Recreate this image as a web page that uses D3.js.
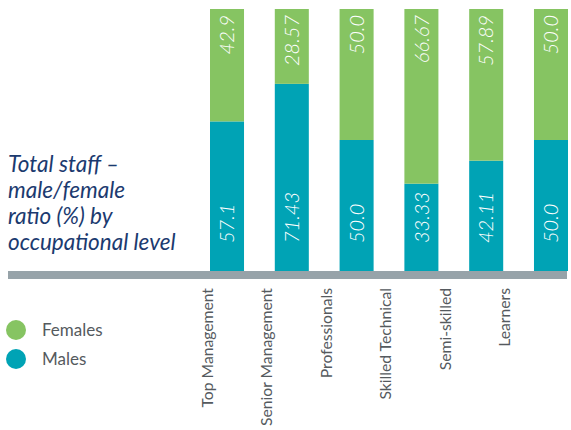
<!DOCTYPE html>
<html>
<head>
<meta charset="utf-8">
<script src="https://cdn.jsdelivr.net/npm/d3@7"></script>
<style>
  body { margin: 0; background: #fff; }
  svg { display: block; }
</style>
</head>
<body>
<svg id="chart"></svg>
<script>
let width = 571;
let height = 430;

// data
let categories = ['Top Management', 'Senior Management', 'Professionals', 'Skilled Technical', 'Semi-skilled', 'Learners'];
let males = [57.1, 71.43, 50.0, 33.33, 42.11, 50.0];
let females = [42.9, 28.57, 50.0, 66.67, 57.89, 50.0];
let maleLabels = ['57.1', '71.43', '50.0', '33.33', '42.11', '50.0'];
let femaleLabels = ['42.9', '28.57', '50.0', '66.67', '57.89', '50.0'];
let titleLines = ['Total staff \u2013', 'male/female', 'ratio (%) by', 'occupational level'];
let legendItems = ['Females', 'Males'];

let green = '#86c462';
let teal = '#00a3b5';
let navy = '#1b3a6f';
let grey = '#555a5e';

const svg = d3.select('#chart')
  .attr('width', width)
  .attr('height', height);

let xScale = d3.scaleBand()
  .domain(categories)
  .range([210, 568])
  .paddingInner(0.475)
  .paddingOuter(0);

let yScale = d3.scaleLinear()
  .domain([0, 100])
  .range([271, 9]);

// category labels sit on their own tighter spacing
let labelX = d3.scalePoint()
  .domain(categories)
  .range([213, 510]);

let rows = categories.map((c, i) => ({
  cat: c, male: males[i], female: females[i], ml: maleLabels[i], fl: femaleLabels[i]
}));

// male segment
svg.selectAll('rect.male')
  .data(rows)
  .enter()
  .append('rect')
    .attr('class', 'male')
    .attr('x', d => xScale(d.cat))
    .attr('y', d => yScale(d.male))
    .attr('width', xScale.bandwidth())
    .attr('height', d => yScale(0) - yScale(d.male))
    .attr('fill', teal);

// female segment stacked on top
svg.selectAll('rect.female')
  .data(rows)
  .enter()
  .append('rect')
    .attr('class', 'female')
    .attr('x', d => xScale(d.cat))
    .attr('y', d => yScale(d.male + d.female))
    .attr('width', xScale.bandwidth())
    .attr('height', d => yScale(d.male) - yScale(d.male + d.female))
    .attr('fill', green);

let numFont = "Lato, 'Open Sans', sans-serif";

svg.selectAll('text.mval')
  .data(rows)
  .enter()
  .append('text')
    .attr('class', 'mval')
    .attr('transform', d => `translate(${xScale(d.cat) + xScale.bandwidth() / 2}, ${yScale(0) - 28}) rotate(-90)`)
    .attr('dy', '0.36em')
    .attr('text-anchor', 'start')
    .attr('fill', '#fff')
    .style('font-family', numFont)
    .style('font-style', 'italic')
    .style('font-weight', 300)
    .style('font-size', '20px')
    .text(d => d.ml);

svg.selectAll('text.fval')
  .data(rows)
  .enter()
  .append('text')
    .attr('class', 'fval')
    .attr('transform', d => `translate(${xScale(d.cat) + xScale.bandwidth() / 2}, ${yScale(100) + 6}) rotate(-90)`)
    .attr('dy', '0.36em')
    .attr('text-anchor', 'end')
    .attr('fill', '#fff')
    .style('font-family', numFont)
    .style('font-style', 'italic')
    .style('font-weight', 300)
    .style('font-size', '20px')
    .text(d => d.fl);

// baseline bar
svg.append('rect')
  .attr('x', 8)
  .attr('y', yScale(0))
  .attr('width', 559)
  .attr('height', 8)
  .attr('fill', '#97a3a9');

// category labels
svg.selectAll('text.cat')
  .data(categories)
  .enter()
  .append('text')
    .attr('class', 'cat')
    .attr('transform', d => `translate(${labelX(d)}, 288) rotate(-90)`)
    .attr('text-anchor', 'end')
    .attr('fill', grey)
    .style('font-family', numFont)
    .style('font-size', '15.7px')
    .text(d => d);

// title
svg.append('text')
  .attr('x', 8)
  .attr('y', 172)
  .attr('fill', navy)
  .style('font-family', numFont)
  .style('font-style', 'italic')
  .style('font-size', '22.5px')
  .selectAll('tspan')
  .data(titleLines)
  .enter()
  .append('tspan')
    .attr('x', 8)
    .attr('dy', (d, i) => i === 0 ? 0 : 26)
    .text(d => d);

// legend
let legendColor = d3.scaleOrdinal().domain(legendItems).range([green, teal]);
let legendY = d3.scalePoint().domain(legendItems).range([330, 359]);

let lg = svg.selectAll('g.legend')
  .data(legendItems)
  .enter()
  .append('g')
    .attr('class', 'legend')
    .attr('transform', d => `translate(16, ${legendY(d)})`);

lg.append('circle')
  .attr('r', 10)
  .attr('fill', d => legendColor(d));

lg.append('text')
  .attr('x', 26)
  .attr('dy', '0.35em')
  .attr('fill', grey)
  .style('font-family', numFont)
  .style('font-size', '17px')
  .text(d => d);
</script>
</body>
</html>
